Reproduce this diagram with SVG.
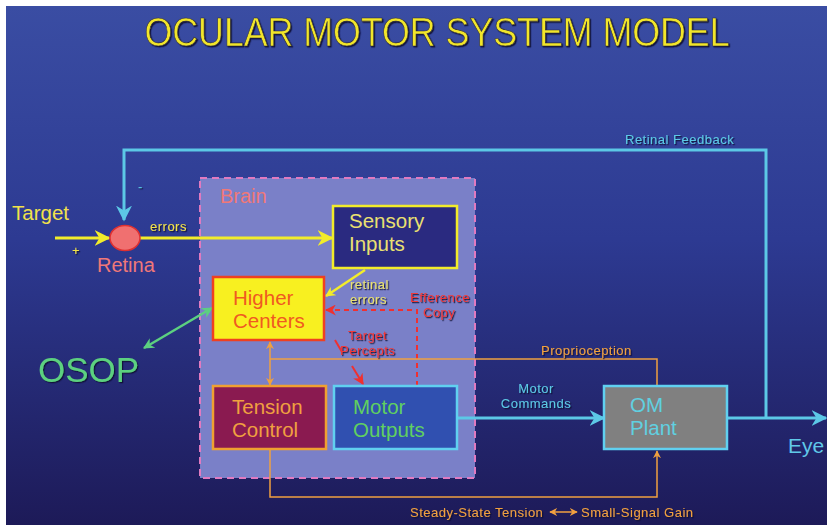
<svg xmlns="http://www.w3.org/2000/svg" width="827" height="525" viewBox="0 0 827 525">
<defs>
<linearGradient id="bg" x1="0" y1="0" x2="0" y2="1">
<stop offset="0" stop-color="#3a4da3"/>
<stop offset="0.45" stop-color="#2d3a92"/>
<stop offset="1" stop-color="#1d1a58"/>
</linearGradient>
<filter id="sh" x="-10%" y="-30%" width="130%" height="170%">
<feDropShadow dx="1.2" dy="1.2" stdDeviation="0.6" flood-color="#101030" flood-opacity="0.9"/>
</filter>
<marker id="aCyB" viewBox="0 0 10 10" refX="9" refY="5" markerWidth="16" markerHeight="16" markerUnits="userSpaceOnUse" orient="auto"><path d="M0,0 L10,5 L0,10 L3,5 z" fill="#5cc8e6"/></marker>
<marker id="aYe" viewBox="0 0 10 10" refX="9" refY="5" markerWidth="16" markerHeight="16" markerUnits="userSpaceOnUse" orient="auto"><path d="M0,0 L10,5 L0,10 L3,5 z" fill="#f2ec2a"/></marker>
<marker id="aYeS" viewBox="0 0 10 10" refX="9" refY="5" markerWidth="10" markerHeight="10" markerUnits="userSpaceOnUse" orient="auto"><path d="M0,0 L10,5 L0,10 L3,5 z" fill="#f2ec2a"/></marker>
<marker id="aRe" viewBox="0 0 10 10" refX="9" refY="5" markerWidth="11" markerHeight="11" markerUnits="userSpaceOnUse" orient="auto"><path d="M0,0 L10,5 L0,10 L3,5 z" fill="#f03030"/></marker>
<marker id="aOr" viewBox="0 0 10 10" refX="9" refY="5" markerWidth="8" markerHeight="8" markerUnits="userSpaceOnUse" orient="auto"><path d="M0,0 L10,5 L0,10 L3,5 z" fill="#f0a040"/></marker>
<marker id="aOrS" viewBox="0 0 10 10" refX="1" refY="5" markerWidth="8" markerHeight="8" markerUnits="userSpaceOnUse" orient="auto"><path d="M10,0 L0,5 L10,10 L7,5 z" fill="#f0a040"/></marker>
<marker id="aGr" viewBox="0 0 10 10" refX="9" refY="5" markerWidth="11" markerHeight="11" markerUnits="userSpaceOnUse" orient="auto"><path d="M0,0 L10,5 L0,10 L3,5 z" fill="#5cd080"/></marker>
<marker id="aGrS" viewBox="0 0 10 10" refX="1" refY="5" markerWidth="11" markerHeight="11" markerUnits="userSpaceOnUse" orient="auto"><path d="M10,0 L0,5 L10,10 L7,5 z" fill="#5cd080"/></marker>
</defs>
<style>
text{font-family:"Liberation Sans",Arial,sans-serif}
.big{font-size:20.5px}
.sm{font-size:13px;letter-spacing:0.5px}
.lab{filter:url(#sh)}
</style>
<rect x="0" y="0" width="827" height="525" fill="#ffffff"/>
<rect x="6" y="6" width="821" height="519" fill="url(#bg)"/>

<text x="437" y="46" text-anchor="middle" font-size="40" textLength="585" lengthAdjust="spacingAndGlyphs" fill="#f2e62a" stroke="#2a2a40" stroke-width="0.6" filter="url(#sh)">OCULAR MOTOR SYSTEM MODEL</text>

<g id="brain">
<rect x="200" y="178" width="275" height="300" fill="#7a80c8" stroke="#e07ac0" stroke-width="2" stroke-dasharray="7,5"/>
<text x="220" y="203" font-size="20" fill="#f07878">Brain</text>
</g>

<g id="connectors" fill="none">
<path d="M766,418 V150 H124 V220" stroke="#5cc8e6" stroke-width="3" marker-end="url(#aCyB)"/>
<line x1="55" y1="238" x2="109" y2="238" stroke="#f2ec2a" stroke-width="3" marker-end="url(#aYe)"/>
<line x1="140" y1="238" x2="332" y2="238" stroke="#f2ec2a" stroke-width="3" marker-end="url(#aYe)"/>
<line x1="365" y1="270" x2="326" y2="296" stroke="#f2ec2a" stroke-width="2.5" marker-end="url(#aYeS)"/>
<path d="M417,386 V310 H326" stroke="#f03030" stroke-width="2" stroke-dasharray="5,4" marker-end="url(#aRe)"/>
<line x1="335" y1="340" x2="342" y2="352" stroke="#f03030" stroke-width="2"/>
<line x1="352" y1="366" x2="363" y2="384" stroke="#f03030" stroke-width="2" marker-end="url(#aRe)"/>
<line x1="270" y1="342" x2="270" y2="385" stroke="#f0a040" stroke-width="1.5" marker-start="url(#aOrS)" marker-end="url(#aOr)"/>
<path d="M270,359 H657 V387" stroke="#f0a040" stroke-width="1.5"/>
<line x1="457" y1="418" x2="604" y2="418" stroke="#5cc8e6" stroke-width="3" marker-end="url(#aCyB)"/>
<line x1="727" y1="418" x2="826" y2="418" stroke="#5cc8e6" stroke-width="3" marker-end="url(#aCyB)"/>
<path d="M270,449 V497 H657 V451" stroke="#f0a040" stroke-width="1.5" marker-end="url(#aOr)"/>
<line x1="144" y1="348" x2="212" y2="308" stroke="#5cd080" stroke-width="2.5" marker-start="url(#aGrS)" marker-end="url(#aGr)"/>
<line x1="550" y1="512" x2="577" y2="512" stroke="#f0a040" stroke-width="1.5" marker-start="url(#aOrS)" marker-end="url(#aOr)"/>
</g>

<g id="retina">
<ellipse cx="125" cy="238" rx="15" ry="12.5" fill="#f07070" stroke="#e03030" stroke-width="1.5"/>
<text x="97" y="272" font-size="20" fill="#f07878">Retina</text>
</g>

<g id="target"><text x="12" y="220" font-size="20.5" fill="#f2e24a">Target</text></g>

<g id="sensory">
<rect x="333" y="206" width="124" height="62" fill="#2a2a80" stroke="#f2ec2a" stroke-width="2.5"/>
<text x="349" y="228" class="big" fill="#eae070">Sensory</text>
<text x="349" y="251" class="big" fill="#eae070">Inputs</text>
</g>

<g id="higher">
<rect x="213" y="277" width="111" height="63" fill="#f8f020" stroke="#f04020" stroke-width="2.5"/>
<text x="233" y="305" class="big" fill="#f05a20">Higher</text>
<text x="233" y="328" class="big" fill="#f05a20">Centers</text>
</g>

<g id="tension">
<rect x="213" y="386" width="113" height="63" fill="#8a1a50" stroke="#f0a030" stroke-width="2.5"/>
<text x="232" y="414" class="big" fill="#f0a040">Tension</text>
<text x="232" y="437" class="big" fill="#f0a040">Control</text>
</g>

<g id="motor">
<rect x="334" y="386" width="123" height="63" fill="#3050b0" stroke="#60d0f0" stroke-width="2.5"/>
<text x="353" y="414" class="big" fill="#60d060">Motor</text>
<text x="353" y="437" class="big" fill="#60d060">Outputs</text>
</g>

<g id="plant">
<rect x="604" y="386" width="123" height="63" fill="#808080" stroke="#60d0f0" stroke-width="2.5"/>
<text x="630" y="412" class="big" fill="#60d0e0">OM</text>
<text x="630" y="435" class="big" fill="#60d0e0">Plant</text>
</g>

<g id="osop"><text x="38" y="382" font-size="35" fill="#5cd080" filter="url(#sh)">OSOP</text></g>
<g id="eye"><text x="788" y="453" font-size="21" fill="#60c8e8">Eye</text></g>

<g id="labels" class="lab">
<text x="625" y="144" class="sm" fill="#5cc8e6">Retinal Feedback</text>
<text x="138" y="191" class="sm" fill="#5cc8e6">-</text>
<text x="72" y="255" class="sm" fill="#f2e24a">+</text>
<text x="150" y="231" class="sm" fill="#f2e24a">errors</text>
<text x="350" y="289" class="sm" fill="#e8e070">retinal</text>
<text x="350" y="304" class="sm" fill="#e8e070">errors</text>
<text x="410" y="302" class="sm" fill="#f03838">Efference</text>
<text x="423" y="317" class="sm" fill="#f03838">Copy</text>
<text x="348" y="340" class="sm" fill="#f03838">Target</text>
<text x="340" y="355" class="sm" fill="#f03838">Percepts</text>
<text x="541" y="355" class="sm" fill="#f0a040">Proprioception</text>
<text x="536" y="393" class="sm" fill="#5cc8e6" text-anchor="middle">Motor</text>
<text x="536" y="408" class="sm" fill="#5cc8e6" text-anchor="middle">Commands</text>
<text x="410" y="517" class="sm" fill="#f0a040">Steady-State Tension</text>
<text x="581" y="517" class="sm" fill="#f0a040">Small-Signal Gain</text>
</g>
</svg>
